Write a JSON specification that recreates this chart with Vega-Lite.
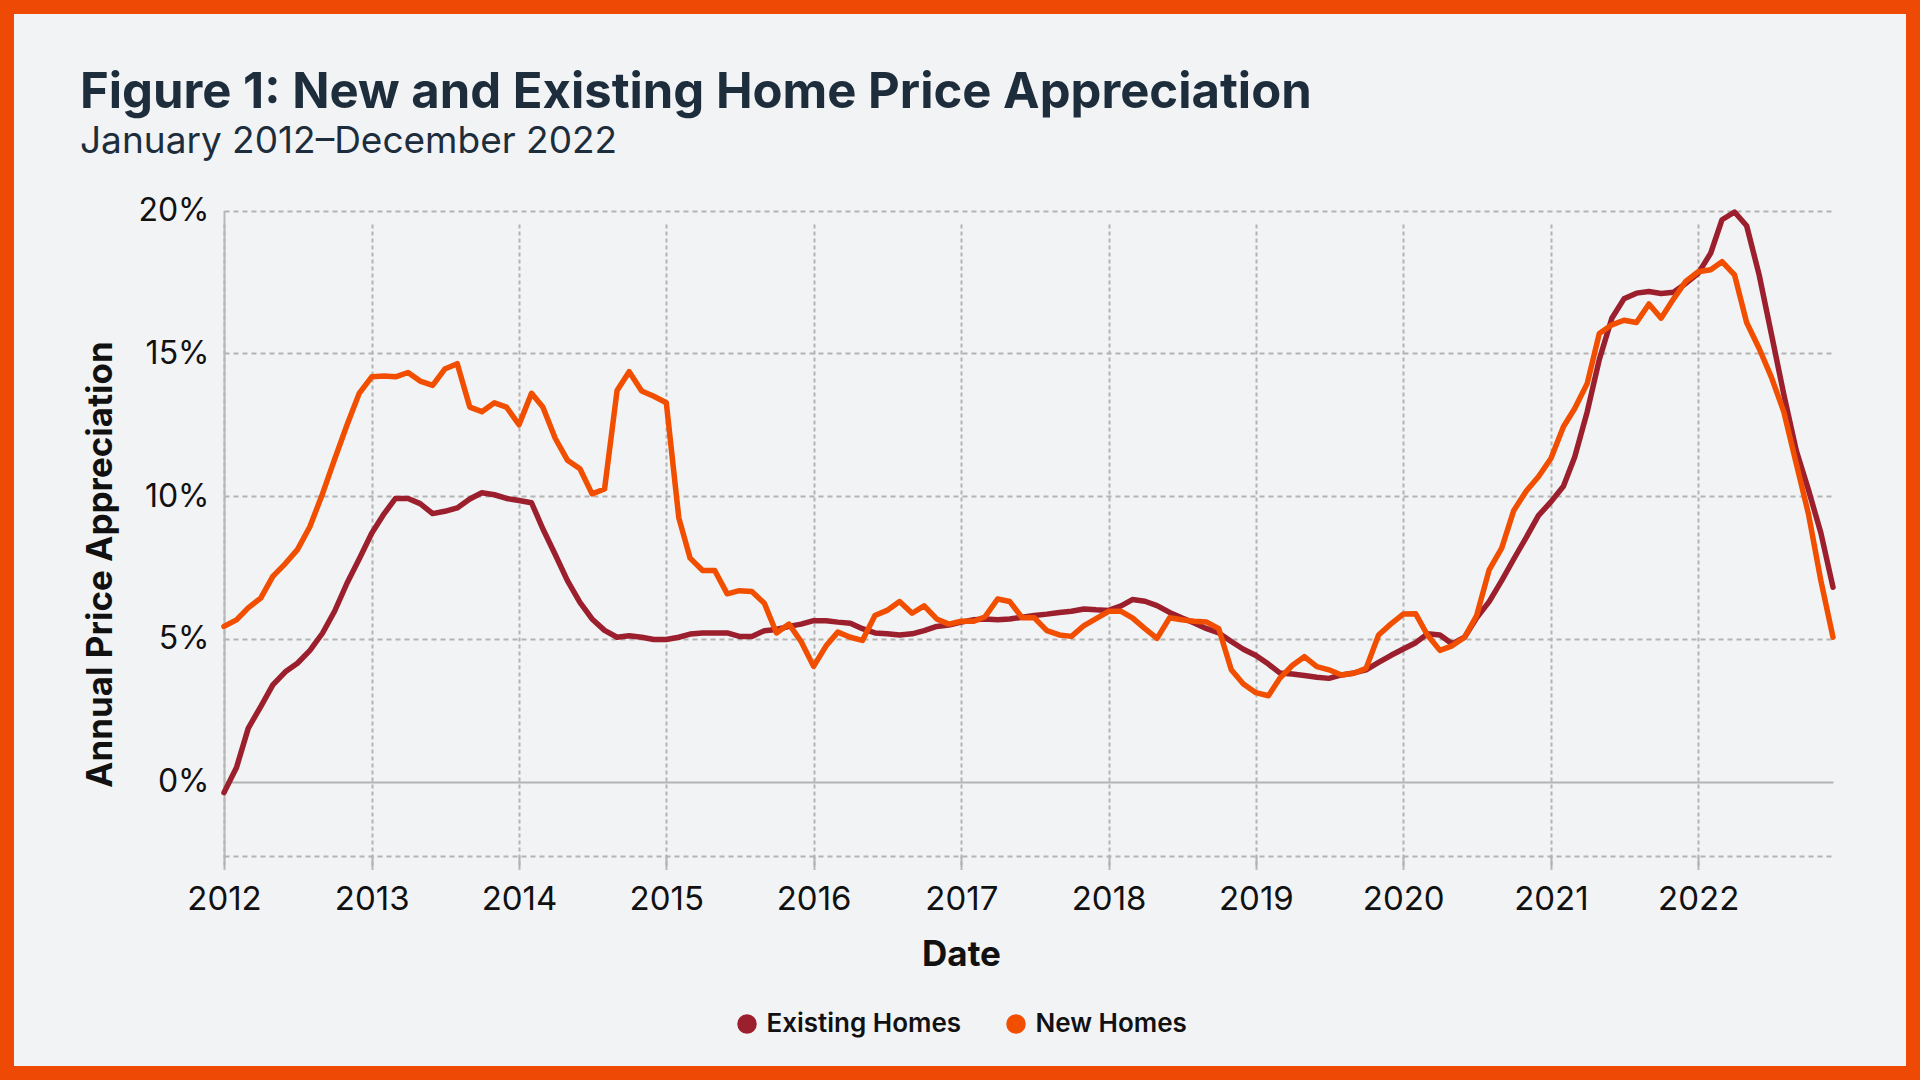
{
  "$schema": "https://vega.github.io/schema/vega-lite/v6.json",
  "width": 1920,
  "height": 1080,
  "autosize": {"type": "none"},
  "padding": 0,
  "background": "#f2f3f5",
  "view": {"fill": "#f2f3f5", "stroke": "#ef4a05", "strokeWidth": 28},
  "title": {
    "text": "Figure 1: New and Existing Home Price Appreciation",
    "subtitle": "January 2012–December 2022",
    "anchor": "start",
    "frame": "group",
    "orient": "top",
    "offset": -160,
    "dx": 80,
    "font": "Inter",
    "fontSize": 49,
    "fontWeight": 700,
    "color": "#1d2d3c",
    "subtitleFont": "Inter",
    "subtitleFontSize": 37,
    "subtitleColor": "#1d2d3c",
    "subtitlePadding": 6
  },
  "data": {
    "values": [
      {"date": "2012-01-01", "Existing Homes": -0.38, "New Homes": 5.44},
      {"date": "2012-02-01", "Existing Homes": 0.5, "New Homes": 5.67},
      {"date": "2012-03-01", "Existing Homes": 1.87, "New Homes": 6.09},
      {"date": "2012-04-01", "Existing Homes": 2.63, "New Homes": 6.43},
      {"date": "2012-05-01", "Existing Homes": 3.39, "New Homes": 7.19},
      {"date": "2012-06-01", "Existing Homes": 3.85, "New Homes": 7.64},
      {"date": "2012-07-01", "Existing Homes": 4.15, "New Homes": 8.13},
      {"date": "2012-08-01", "Existing Homes": 4.6, "New Homes": 8.94},
      {"date": "2012-09-01", "Existing Homes": 5.2, "New Homes": 10.08},
      {"date": "2012-10-01", "Existing Homes": 5.97, "New Homes": 11.29},
      {"date": "2012-11-01", "Existing Homes": 6.96, "New Homes": 12.5},
      {"date": "2012-12-01", "Existing Homes": 7.8, "New Homes": 13.6},
      {"date": "2013-01-01", "Existing Homes": 8.7, "New Homes": 14.18},
      {"date": "2013-02-01", "Existing Homes": 9.39, "New Homes": 14.21},
      {"date": "2013-03-01", "Existing Homes": 9.92, "New Homes": 14.18},
      {"date": "2013-04-01", "Existing Homes": 9.92, "New Homes": 14.33},
      {"date": "2013-05-01", "Existing Homes": 9.74, "New Homes": 14.03},
      {"date": "2013-06-01", "Existing Homes": 9.39, "New Homes": 13.88},
      {"date": "2013-07-01", "Existing Homes": 9.47, "New Homes": 14.45},
      {"date": "2013-08-01", "Existing Homes": 9.59, "New Homes": 14.64},
      {"date": "2013-09-01", "Existing Homes": 9.9, "New Homes": 13.12},
      {"date": "2013-10-01", "Existing Homes": 10.12, "New Homes": 12.96},
      {"date": "2013-11-01", "Existing Homes": 10.05, "New Homes": 13.27},
      {"date": "2013-12-01", "Existing Homes": 9.92, "New Homes": 13.12},
      {"date": "2014-01-01", "Existing Homes": 9.85, "New Homes": 12.5},
      {"date": "2014-02-01", "Existing Homes": 9.77, "New Homes": 13.6},
      {"date": "2014-03-01", "Existing Homes": 8.86, "New Homes": 13.12},
      {"date": "2014-04-01", "Existing Homes": 7.95, "New Homes": 12.02},
      {"date": "2014-05-01", "Existing Homes": 7.04, "New Homes": 11.26},
      {"date": "2014-06-01", "Existing Homes": 6.28, "New Homes": 10.96},
      {"date": "2014-07-01", "Existing Homes": 5.7, "New Homes": 10.08},
      {"date": "2014-08-01", "Existing Homes": 5.3, "New Homes": 10.25},
      {"date": "2014-09-01", "Existing Homes": 5.06, "New Homes": 13.7},
      {"date": "2014-10-01", "Existing Homes": 5.11, "New Homes": 14.36},
      {"date": "2014-11-01", "Existing Homes": 5.06, "New Homes": 13.68},
      {"date": "2014-12-01", "Existing Homes": 4.98, "New Homes": 13.5},
      {"date": "2015-01-01", "Existing Homes": 4.98, "New Homes": 13.27},
      {"date": "2015-02-01", "Existing Homes": 5.06, "New Homes": 9.24},
      {"date": "2015-03-01", "Existing Homes": 5.17, "New Homes": 7.83},
      {"date": "2015-04-01", "Existing Homes": 5.21, "New Homes": 7.4},
      {"date": "2015-05-01", "Existing Homes": 5.21, "New Homes": 7.4},
      {"date": "2015-06-01", "Existing Homes": 5.21, "New Homes": 6.58},
      {"date": "2015-07-01", "Existing Homes": 5.09, "New Homes": 6.69},
      {"date": "2015-08-01", "Existing Homes": 5.09, "New Homes": 6.66},
      {"date": "2015-09-01", "Existing Homes": 5.29, "New Homes": 6.25},
      {"date": "2015-10-01", "Existing Homes": 5.33, "New Homes": 5.21},
      {"date": "2015-11-01", "Existing Homes": 5.44, "New Homes": 5.52},
      {"date": "2015-12-01", "Existing Homes": 5.52, "New Homes": 4.91},
      {"date": "2016-01-01", "Existing Homes": 5.64, "New Homes": 4.04},
      {"date": "2016-02-01", "Existing Homes": 5.64, "New Homes": 4.76},
      {"date": "2016-03-01", "Existing Homes": 5.59, "New Homes": 5.24},
      {"date": "2016-04-01", "Existing Homes": 5.55, "New Homes": 5.06},
      {"date": "2016-05-01", "Existing Homes": 5.36, "New Homes": 4.95},
      {"date": "2016-06-01", "Existing Homes": 5.21, "New Homes": 5.82},
      {"date": "2016-07-01", "Existing Homes": 5.18, "New Homes": 6.0},
      {"date": "2016-08-01", "Existing Homes": 5.14, "New Homes": 6.31},
      {"date": "2016-09-01", "Existing Homes": 5.18, "New Homes": 5.9},
      {"date": "2016-10-01", "Existing Homes": 5.29, "New Homes": 6.16},
      {"date": "2016-11-01", "Existing Homes": 5.44, "New Homes": 5.7},
      {"date": "2016-12-01", "Existing Homes": 5.49, "New Homes": 5.52},
      {"date": "2017-01-01", "Existing Homes": 5.59, "New Homes": 5.62},
      {"date": "2017-02-01", "Existing Homes": 5.67, "New Homes": 5.62},
      {"date": "2017-03-01", "Existing Homes": 5.7, "New Homes": 5.78},
      {"date": "2017-04-01", "Existing Homes": 5.67, "New Homes": 6.4},
      {"date": "2017-05-01", "Existing Homes": 5.7, "New Homes": 6.31},
      {"date": "2017-06-01", "Existing Homes": 5.76, "New Homes": 5.74},
      {"date": "2017-07-01", "Existing Homes": 5.82, "New Homes": 5.74},
      {"date": "2017-08-01", "Existing Homes": 5.87, "New Homes": 5.29},
      {"date": "2017-09-01", "Existing Homes": 5.93, "New Homes": 5.14},
      {"date": "2017-10-01", "Existing Homes": 5.97, "New Homes": 5.09},
      {"date": "2017-11-01", "Existing Homes": 6.05, "New Homes": 5.47},
      {"date": "2017-12-01", "Existing Homes": 6.02, "New Homes": 5.71},
      {"date": "2018-01-01", "Existing Homes": 6.0, "New Homes": 5.97},
      {"date": "2018-02-01", "Existing Homes": 6.16, "New Homes": 5.97},
      {"date": "2018-03-01", "Existing Homes": 6.38, "New Homes": 5.74},
      {"date": "2018-04-01", "Existing Homes": 6.32, "New Homes": 5.36},
      {"date": "2018-05-01", "Existing Homes": 6.17, "New Homes": 5.02},
      {"date": "2018-06-01", "Existing Homes": 5.93, "New Homes": 5.74},
      {"date": "2018-07-01", "Existing Homes": 5.74, "New Homes": 5.67},
      {"date": "2018-08-01", "Existing Homes": 5.56, "New Homes": 5.62},
      {"date": "2018-09-01", "Existing Homes": 5.36, "New Homes": 5.59},
      {"date": "2018-10-01", "Existing Homes": 5.21, "New Homes": 5.36},
      {"date": "2018-11-01", "Existing Homes": 4.91, "New Homes": 3.92},
      {"date": "2018-12-01", "Existing Homes": 4.64, "New Homes": 3.42},
      {"date": "2019-01-01", "Existing Homes": 4.42, "New Homes": 3.12},
      {"date": "2019-02-01", "Existing Homes": 4.12, "New Homes": 3.01},
      {"date": "2019-03-01", "Existing Homes": 3.81, "New Homes": 3.62},
      {"date": "2019-04-01", "Existing Homes": 3.77, "New Homes": 4.07},
      {"date": "2019-05-01", "Existing Homes": 3.72, "New Homes": 4.38},
      {"date": "2019-06-01", "Existing Homes": 3.66, "New Homes": 4.03},
      {"date": "2019-07-01", "Existing Homes": 3.62, "New Homes": 3.92},
      {"date": "2019-08-01", "Existing Homes": 3.74, "New Homes": 3.74},
      {"date": "2019-09-01", "Existing Homes": 3.81, "New Homes": 3.8},
      {"date": "2019-10-01", "Existing Homes": 3.92, "New Homes": 3.97},
      {"date": "2019-11-01", "Existing Homes": 4.18, "New Homes": 5.14},
      {"date": "2019-12-01", "Existing Homes": 4.42, "New Homes": 5.52},
      {"date": "2020-01-01", "Existing Homes": 4.65, "New Homes": 5.87},
      {"date": "2020-02-01", "Existing Homes": 4.87, "New Homes": 5.88},
      {"date": "2020-03-01", "Existing Homes": 5.18, "New Homes": 5.14},
      {"date": "2020-04-01", "Existing Homes": 5.14, "New Homes": 4.6},
      {"date": "2020-05-01", "Existing Homes": 4.83, "New Homes": 4.76},
      {"date": "2020-06-01", "Existing Homes": 5.06, "New Homes": 5.06},
      {"date": "2020-07-01", "Existing Homes": 5.74, "New Homes": 5.82},
      {"date": "2020-08-01", "Existing Homes": 6.31, "New Homes": 7.42},
      {"date": "2020-09-01", "Existing Homes": 7.04, "New Homes": 8.18},
      {"date": "2020-10-01", "Existing Homes": 7.8, "New Homes": 9.5},
      {"date": "2020-11-01", "Existing Homes": 8.56, "New Homes": 10.18},
      {"date": "2020-12-01", "Existing Homes": 9.32, "New Homes": 10.68},
      {"date": "2021-01-01", "Existing Homes": 9.8, "New Homes": 11.32},
      {"date": "2021-02-01", "Existing Homes": 10.35, "New Homes": 12.43},
      {"date": "2021-03-01", "Existing Homes": 11.37, "New Homes": 13.07},
      {"date": "2021-04-01", "Existing Homes": 12.96, "New Homes": 13.95},
      {"date": "2021-05-01", "Existing Homes": 14.79, "New Homes": 15.7},
      {"date": "2021-06-01", "Existing Homes": 16.23, "New Homes": 16.0},
      {"date": "2021-07-01", "Existing Homes": 16.91, "New Homes": 16.16},
      {"date": "2021-08-01", "Existing Homes": 17.11, "New Homes": 16.08},
      {"date": "2021-09-01", "Existing Homes": 17.17, "New Homes": 16.73},
      {"date": "2021-10-01", "Existing Homes": 17.1, "New Homes": 16.23},
      {"date": "2021-11-01", "Existing Homes": 17.14, "New Homes": 16.91},
      {"date": "2021-12-01", "Existing Homes": 17.45, "New Homes": 17.52},
      {"date": "2022-01-01", "Existing Homes": 17.8, "New Homes": 17.86},
      {"date": "2022-02-01", "Existing Homes": 18.51, "New Homes": 17.93},
      {"date": "2022-03-01", "Existing Homes": 19.68, "New Homes": 18.21},
      {"date": "2022-04-01", "Existing Homes": 19.95, "New Homes": 17.75},
      {"date": "2022-05-01", "Existing Homes": 19.47, "New Homes": 16.08},
      {"date": "2022-06-01", "Existing Homes": 17.75, "New Homes": 15.17},
      {"date": "2022-07-01", "Existing Homes": 15.7, "New Homes": 14.18},
      {"date": "2022-08-01", "Existing Homes": 13.57, "New Homes": 12.96},
      {"date": "2022-09-01", "Existing Homes": 11.6, "New Homes": 11.14},
      {"date": "2022-10-01", "Existing Homes": 10.23, "New Homes": 9.39},
      {"date": "2022-11-01", "Existing Homes": 8.71, "New Homes": 7.04},
      {"date": "2022-12-01", "Existing Homes": 6.81, "New Homes": 5.06}
    ]
  },
  "transform": [{"fold": ["Existing Homes", "New Homes"], "as": ["series", "value"]}],
  "mark": {"type": "line", "strokeWidth": 5.5, "strokeJoin": "round", "strokeCap": "round"},
  "encoding": {
    "x": {
      "field": "date",
      "type": "temporal",
      "scale": {
        "type": "utc",
        "domain": [{"year": 2012, "month": 1, "date": 1, "utc": true}, {"year": 2022, "month": 12, "date": 1, "utc": true}],
        "range": [224, 1833],
        "nice": false
      },
      "axis": {
        "offset": -224,
        "format": "%Y",
        "tickCount": {"interval": "year", "step": 1},
        "domain": true,
        "domainDash": [5, 4],
        "domainColor": "#b3b3b3",
        "domainWidth": 2,
        "ticks": true,
        "tickSize": 12,
        "tickColor": "#b3b3b3",
        "tickWidth": 2,
        "grid": true,
        "gridDash": [4, 3],
        "gridColor": "#b3b3b3",
        "gridWidth": 2,
        "labelPadding": 15,
        "labelFont": "Inter",
        "labelFontSize": 33,
        "labelColor": "#111111",
        "labelFlush": false,
        "labelOverlap": false,
        "title": "Date",
        "titleX": 961,
        "titleFont": "Inter",
        "titleFontSize": 35,
        "titleFontWeight": 700,
        "titleColor": "#111111",
        "titlePadding": 21
      }
    },
    "y": {
      "field": "value",
      "type": "quantitative",
      "scale": {"domain": [-2.6, 20], "range": [856, 210.6], "nice": false, "zero": false},
      "axis": {
        "offset": -224,
        "values": [0, 5, 10, 15, 20],
        "labelExpr": "datum.value + '%'",
        "domain": true,
        "domainColor": "#b8b8b8",
        "domainWidth": 2,
        "ticks": false,
        "labelPadding": 15,
        "labelFont": "Inter",
        "labelFontSize": 32,
        "labelColor": "#111111",
        "grid": true,
        "gridColor": "#b3b3b3",
        "gridDash": {"condition": {"test": "datum.value === 0", "value": []}, "value": [5, 4]},
        "gridWidth": 2,
        "title": "Annual Price Appreciation",
        "titleX": -106,
        "titleY": 564,
        "titleFont": "Inter",
        "titleFontSize": 35,
        "titleFontWeight": 700,
        "titleColor": "#111111"
      }
    },
    "color": {
      "field": "series",
      "type": "nominal",
      "scale": {"domain": ["Existing Homes", "New Homes"], "range": ["#9b1f2d", "#f24e00"]},
      "legend": {
        "orient": "none",
        "legendX": 734,
        "legendY": 1011,
        "direction": "horizontal",
        "title": null,
        "symbolType": "circle",
        "symbolSize": 380,
        "labelFont": "Inter",
        "labelFontSize": 26,
        "labelFontWeight": 600,
        "labelColor": "#111111",
        "labelOffset": 6.5,
        "labelLimit": 0,
        "columnPadding": 41,
        "encode": {"symbols": {"update": {"fill": {"scale": "color", "field": "value"}, "strokeWidth": {"value": 0}}}}
      }
    }
  }
}
